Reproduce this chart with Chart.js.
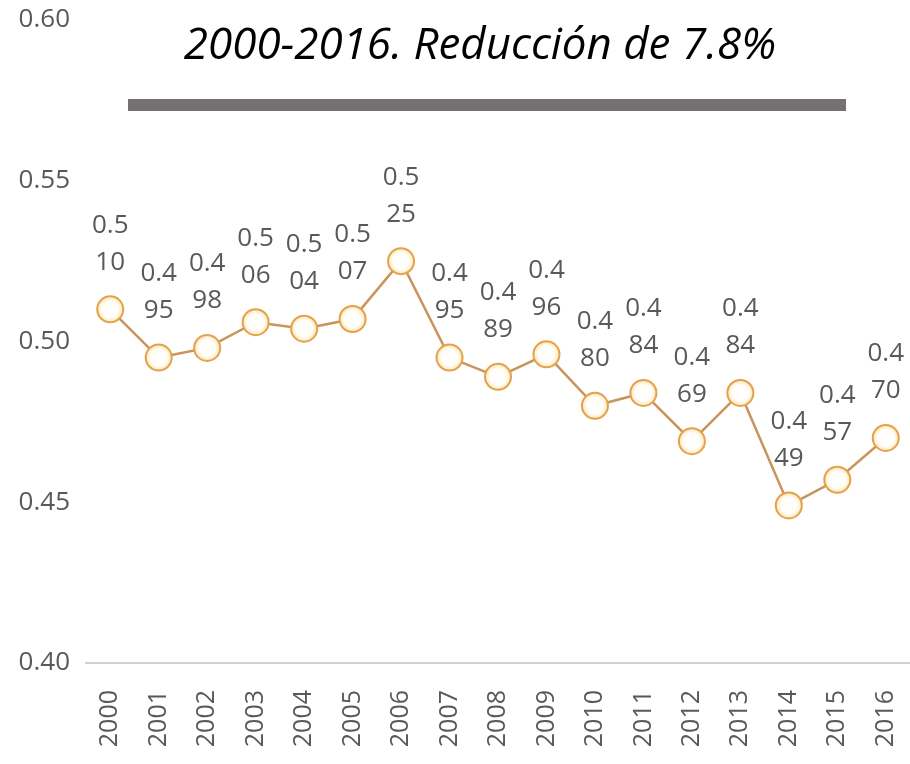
<!DOCTYPE html>
<html><head><meta charset="utf-8">
<script src="https://cdn.jsdelivr.net/npm/chart.js@4/dist/chart.umd.min.js"></script>
<style>html,body{margin:0;padding:0;background:#fff}#wrap{width:910px;height:764px}</style>
</head><body><div id="wrap"><canvas id="c" width="910" height="764"></canvas></div>
<script>
const years = ["2000","2001","2002","2003","2004","2005","2006","2007","2008","2009","2010","2011","2012","2013","2014","2015","2016"];
const values = [0.510,0.495,0.498,0.506,0.504,0.507,0.525,0.495,0.489,0.496,0.480,0.484,0.469,0.484,0.449,0.457,0.470];
const yTicks = [0.40,0.45,0.50,0.55,0.60];
const titleText = "2000-2016. Reducción de 7.8%";

const overlay = {
  id:'overlay',
  afterDatasetsDraw(chart){
    const ctx = chart.ctx;
    ctx.save();
    ctx.font = 'italic 40px "Open Sans"';
    let w = ctx.measureText(titleText).width;
    let fs = 40*593/w;
    ctx.font = 'italic '+fs.toFixed(1)+'px "Open Sans"';
    ctx.fillStyle = '#000';
    ctx.textAlign='center'; ctx.textBaseline='middle';
    ctx.fillText(titleText, 480, 46);
    ctx.fillStyle = '#767171';
    ctx.fillRect(128, 99, 718, 12);
    const meta = chart.getDatasetMeta(0);
    ctx.font = '26px "Open Sans"';
    ctx.fillStyle = '#595959';
    meta.data.forEach((pt,i)=>{
      const s = values[i].toFixed(3);
      ctx.fillText(s.slice(0,3), pt.x, pt.y-84);
      ctx.fillText(s.slice(3), pt.x, pt.y-47);
    });
    ctx.restore();
  }
};

function ptFill(context){
  const chart = context.chart;
  const el = context.element;
  if(!el || el.x===undefined) return '#fff';
  const g = chart.ctx.createRadialGradient(el.x, el.y, 2, el.x, el.y, 13);
  g.addColorStop(0,'#ffffff');
  g.addColorStop(0.6,'#fffdf5');
  g.addColorStop(1,'#fbe3b4');
  return g;
}

new Chart(document.getElementById('c'), {
  type:'line',
  data:{labels:years, datasets:[{
    data:values,
    borderColor:'#c9955c',
    borderWidth:2.5,
    pointRadius:13,
    pointHoverRadius:13,
    pointBorderColor:'#e5a24c',
    pointBorderWidth:2,
    pointBackgroundColor:ptFill,
    tension:0
  }]},
  options:{
    responsive:false, animation:false,
    layout:{autoPadding:false, padding:{top:20,right:0,left:0,bottom:0}},
    plugins:{legend:{display:false}, tooltip:{enabled:false}, title:{display:false}},
    scales:{
      x:{
        offset:true,
        grid:{display:false, drawTicks:false},
        border:{display:true, color:'#d0d0d0', width:2},
        ticks:{minRotation:90, maxRotation:90, padding:27, color:'#595959', font:{family:'"Open Sans"', size:25}},
        afterFit(s){ s.height = 101; s.paddingRight = 0; s.paddingLeft = 0; }
      },
      y:{
        min:0.40, max:0.60,
        afterBuildTicks(s){ s.ticks = yTicks.map(v=>({value:v})); },
        grid:{display:false, drawTicks:false},
        border:{display:false},
        ticks:{padding:16, color:'#595959', font:{family:'"Open Sans"', size:26}, callback:v=>v.toFixed(2)},
        afterFit(s){ s.width = 86; s.paddingTop = 0; s.paddingBottom = 0; }
      }
    }
  },
  plugins:[overlay]
});
</script></body></html>
